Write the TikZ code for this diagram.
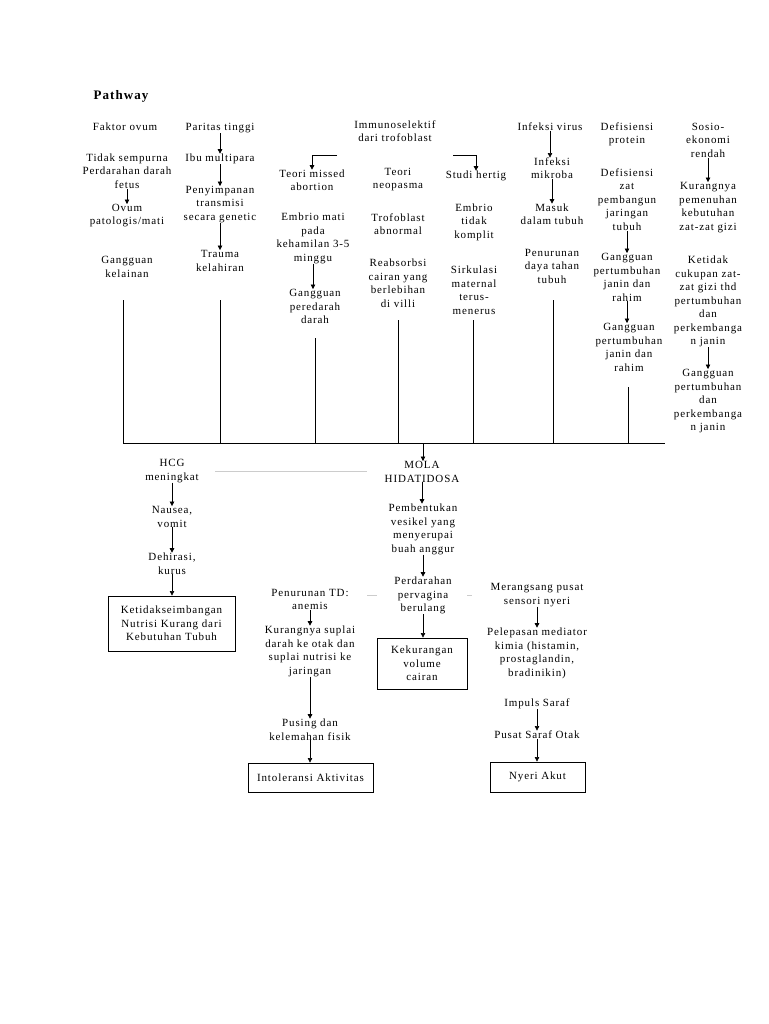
\documentclass[tikz,border=0pt]{standalone}
\usepackage{fontspec}
\setmainfont{Liberation Serif}[LetterSpace=8]
\usetikzlibrary{arrows.meta}
\begin{document}
\begin{tikzpicture}[x=1pt,y=-1pt,
  t/.style={font=\fontsize{11}{13.5}\selectfont, align=center, inner sep=0pt, anchor=base},
  arr/.style={-{Triangle[width=4.5pt,length=4.5pt]}, line width=0.6pt},
  ln/.style={line width=0.9pt},
  gl/.style={gray!40, line width=1pt},
  boxn/.style={draw, line width=0.9pt, align=center, inner sep=0pt, anchor=center,
    font=\fontsize{11}{13.5}\selectfont}]
\fill[white] (0,0) rectangle (768,1024);
\useasboundingbox (0,0) rectangle (768,1024);

\node[font=\bfseries\fontsize{13}{15}\selectfont, anchor=base, inner sep=0pt] (title) at (121,100) {Pathway};

% column 1
\node[t] (c1a) at (125,130.5) {Faktor ovum};
\node[t] (c1b) at (127,188.5) {Tidak sempurna\\Perdarahan darah\\fetus};
\node[t] (c1c) at (127,225) {Ovum\\patologis/mati};
\node[t] (c1d) at (127,277) {Gangguan\\kelainan};
% column 2
\node[t] (c2a) at (220,130.5) {Paritas tinggi};
\node[t] (c2b) at (220,161.5) {Ibu multipara};
\node[t] (c2c) at (220,220.5) {Penyimpanan\\transmisi\\secara genetic};
\node[t] (c2d) at (220,271) {Trauma\\kelahiran};
% immunoselektif
\node[t] (imm) at (395,142) {Immunoselektif\\dari trofoblast};
\node[t] (c3a) at (312,191) {Teori missed\\abortion};
\node[t] (c3b) at (313,261) {Embrio mati\\pada\\kehamilan 3-5\\minggu};
\node[t] (c3c) at (315,323.5) {Gangguan\\peredarah\\darah};
\node[t] (c4a) at (398,189) {Teori\\neopasma};
\node[t] (c4b) at (398,235) {Trofoblast\\abnormal};
\node[t] (c4c) at (398,307) {Reabsorbsi\\cairan yang\\berlebihan\\di villi};
\node[t] (c5a) at (476,178.5) {Studi hertig};
\node[t] (c5b) at (474,238.5) {Embrio\\tidak\\komplit};
\node[t] (c5c) at (474,314) {Sirkulasi\\maternal\\terus-\\menerus};
% infeksi
\node[t] (c6a) at (550,130.5) {Infeksi virus};
\node[t] (c6b) at (552,179) {Infeksi\\mikroba};
\node[t] (c6c) at (552,225) {Masuk\\dalam tubuh};
\node[t] (c6d) at (552,283.5) {Penurunan\\daya tahan\\tubuh};
% defisiensi
\node[t] (c7a) at (627,144) {Defisiensi\\protein};
\node[t] (c7b) at (627,230.5) {Defisiensi\\zat\\pembangun\\jaringan\\tubuh};
\node[t] (c7c) at (627,301) {Gangguan\\pertumbuhan\\janin dan\\rahim};
\node[t] (c7d) at (629,371) {Gangguan\\pertumbuhan\\janin dan\\rahim};
% sosio
\node[t] (c8a) at (708,157.5) {Sosio-\\ekonomi\\rendah};
\node[t] (c8b) at (708,230) {Kurangnya\\pemenuhan\\kebutuhan\\zat-zat gizi};
\node[t] (c8c) at (708,344.5) {Ketidak\\cukupan zat-\\zat gizi thd\\pertumbuhan\\dan\\perkembanga\\n janin};
\node[t] (c8d) at (708,430.5) {Gangguan\\pertumbuhan\\dan\\perkembanga\\n janin};

% arrows top
\draw[arr] (c1b.south) -- (c1b.south |- c1c.north);
\draw[arr] (c2a.south) -- (c2a.south |- c2b.north);
\draw[arr] (c2b.south) -- (c2b.south |- c2c.north);
\draw[arr] (c2c.south) -- (c2c.south |- c2d.north);
\coordinate (imL) at (337,155);
\coordinate (imR) at (453,155);
\draw[arr] (imL) -| (c3a.north);
\draw[arr] (imR) -| (c5a.north);
\draw[arr] (c3b.south) -- (c3b.south |- c3c.north);
\draw[arr] (c6a.south) -- (c6a.south |- c6b.north);
\draw[arr] (c6b.south) -- (c6b.south |- c6c.north);
\draw[arr] (c7b.south) -- (c7b.south |- c7c.north);
\draw[arr] (c7c.south) -- (c7c.south |- c7d.north);
\draw[arr] (c8a.south) -- (c8a.south |- c8b.north);
\draw[arr] (c8c.south) -- (c8c.south |- c8d.north);

% bus lines
\coordinate (v1) at (123,300); \coordinate (b1) at (123,443);
\coordinate (v2) at (220,300); \coordinate (b2) at (220,443);
\coordinate (v3) at (315,338); \coordinate (b3) at (315,443);
\coordinate (v4) at (398,320); \coordinate (b4) at (398,443);
\coordinate (v5) at (473,320); \coordinate (b5) at (473,443);
\coordinate (v6) at (553,300); \coordinate (b6) at (553,443);
\coordinate (v7) at (628,387); \coordinate (b7) at (628,443);
\coordinate (bR) at (665,443);
\coordinate (bM) at (423,443);
\draw[ln] (v1) -- (b1);
\draw[ln] (v2) -- (b2);
\draw[ln] (v3) -- (b3);
\draw[ln] (v4) -- (b4);
\draw[ln] (v5) -- (b5);
\draw[ln] (v6) -- (b6);
\draw[ln] (v7) -- (b7);
\draw[ln] (b1) -- (bR);

% bottom
\node[t] (mola) at (422,482) {MOLA\\HIDATIDOSA};
\node[t] (pemb) at (423,552) {Pembentukan\\vesikel yang\\menyerupai\\buah anggur};
\node[t] (perd) at (423,611.5) {Perdarahan\\pervagina\\berulang};
\node[boxn, minimum width=90, minimum height=51] (box2) at (422,663.5) {Kekurangan\\volume\\cairan};

\node[t] (hcg) at (172,480) {HCG\\meningkat};
\node[t] (naus) at (172,527) {Nausea,\\vomit};
\node[t] (dehi) at (172,574) {Dehirasi,\\kurus};
\node[boxn, minimum width=127, minimum height=55] (box1) at (171.5,623.5) {Ketidakseimbangan\\Nutrisi Kurang dari\\Kebutuhan Tubuh};

\node[t] (penu) at (310,609.5) {Penurunan TD:\\anemis};
\node[t] (kura) at (310,674) {Kurangnya suplai\\darah ke otak dan\\suplai nutrisi ke\\jaringan};
\node[t] (pusi) at (310,740) {Pusing dan\\kelemahan fisik};
\node[boxn, minimum width=125, minimum height=29] (box3) at (310.5,777.5) {Intoleransi Aktivitas};

\node[t] (mera) at (537,604) {Merangsang pusat\\sensori nyeri};
\node[t] (pele) at (537,676) {Pelepasan mediator\\kimia (histamin,\\prostaglandin,\\bradinikin)};
\node[t] (impu) at (537,706.5) {Impuls Saraf};
\node[t] (pusa) at (537,738.5) {Pusat Saraf Otak};
\node[boxn, minimum width=95, minimum height=30] (box4) at (537.5,777) {Nyeri Akut};

\draw[arr] (bM) -- (bM |- mola.north);
\draw[arr] (mola.south) -- (mola.south |- pemb.north);
\draw[arr] (pemb.south) -- (pemb.south |- perd.north);
\draw[arr] (perd.south) -- (perd.south |- box2.north);
\draw[arr] (hcg.south) -- (hcg.south |- naus.north);
\draw[arr] (naus.south) -- (naus.south |- dehi.north);
\draw[arr] (dehi.south) -- (dehi.south |- box1.north);
\draw[arr] (penu.south) -- (penu.south |- kura.north);
\draw[arr] (kura.south) -- (kura.south |- pusi.north);
\draw[arr] (pusi.south) -- (pusi.south |- box3.north);
\draw[arr] (mera.south) -- (mera.south |- pele.north);
\draw[arr] (impu.south) -- (impu.south |- pusa.north);
\draw[arr] (pusa.south) -- (pusa.south |- box4.north);

% faint grey remnants
\coordinate (g1) at (215,471); \coordinate (g2) at (367,471);
\draw[gl] (g1) -- (g2);
\coordinate (g3) at (367,595); \coordinate (g4) at (377,595);
\draw[gl] (g3) -- (g4);
\coordinate (g5) at (467,595); \coordinate (g6) at (472,595);
\draw[gl] (g5) -- (g6);
\end{tikzpicture}
\end{document}
